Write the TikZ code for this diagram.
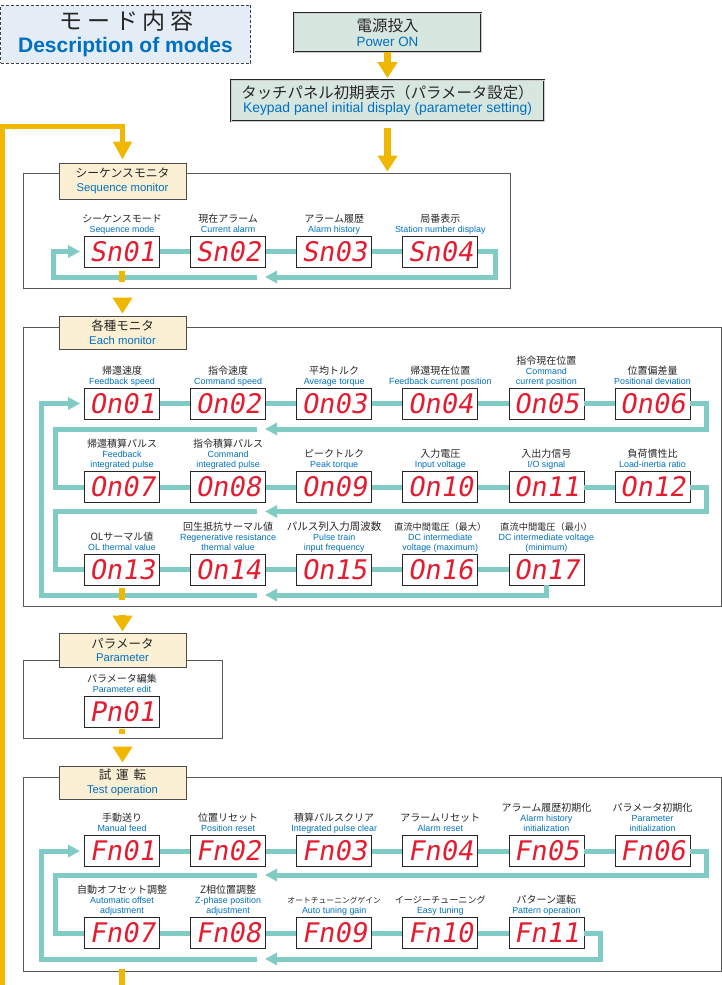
\documentclass[tikz,border=0pt]{standalone}
\usepackage{fontspec}
\setmainfont{Liberation Sans}
\newfontfamily\jpfont{Noto Sans CJK JP}
\newfontfamily\segfont{DejaVu Sans Mono}[FakeSlant=0.18]
\usetikzlibrary{arrows.meta,positioning,calc}

\definecolor{loopteal}{RGB}{128,204,196}
\definecolor{flowyellow}{RGB}{240,183,0}
\definecolor{segred}{RGB}{228,28,48}
\definecolor{engblue}{RGB}{0,112,192}
\definecolor{tabcream}{RGB}{252,240,212}
\definecolor{titlefill}{RGB}{228,237,246}
\definecolor{pwrfill}{RGB}{216,230,224}

\newcommand{\jlbl}[2][10]{{\jpfont\fontsize{#1}{12}\selectfont\color{black!85}#2}}

\begin{document}
\begin{tikzpicture}[
        x=1pt, y=-1pt,
        frame/.style={draw=black!65, line width=0.9pt, inner sep=0pt},
        tab/.style={draw=black!70, line width=0.8pt, fill=tabcream, minimum width=127pt, minimum height=34pt, inner sep=0pt, align=center, text=engblue, font=\fontsize{11.3}{13.5}\selectfont},
        pwrbox/.style={draw=black!85, line width=0.7pt, double=gray!40, double distance=0.9pt, fill=pwrfill, inner sep=0pt, align=center, text=engblue},
        disp/.style={draw=black!85, line width=0.8pt, fill=white, minimum width=75pt, minimum height=31pt, inner sep=0pt, text=segred, font=\segfont\fontsize{27}{27}\selectfont},
        lbl/.style={align=center, inner sep=0pt, text depth=2pt, text=engblue, font=\fontsize{8.9}{10}\selectfont},
        tline/.style={draw=loopteal, line width=5pt},
        ttip/.style={-{Triangle[width=12pt,length=12pt]}},
        yarrow/.style={draw=flowyellow, line width=7pt, -{Triangle[width=19pt,length=16pt]}},
        yloop/.style={draw=flowyellow, line width=5pt, -{Triangle[width=18pt,length=18pt]}},
        ystub/.style={draw=flowyellow, line width=6pt}
    ]
        \useasboundingbox (0,0) rectangle (722,985);

        % Heading and start boxes
        \node[draw=black!75, dashed, dash pattern=on 3pt off 2pt, line width=0.9pt, fill=titlefill, minimum width=250pt, minimum height=58pt, inner sep=0pt, align=center, text=engblue, font=\bfseries\fontsize{21}{23}\selectfont] (title) at (125.5,34)
            {{\jpfont\mdseries\fontsize{23}{23}\selectfont\color{black!85}\addfontfeature{LetterSpace=20}モード内容\kern-2.3pt}\\Description of modes};
        \node[pwrbox, minimum width=187pt, minimum height=39pt, font=\fontsize{13.4}{15.5}\selectfont] (power) at (387.5,32.5)
            {{\jpfont\fontsize{15.5}{17}\selectfont\color{black!85}電源投入}\\Power ON};
        \node[pwrbox, minimum width=313pt, minimum height=41pt, font=\fontsize{13.9}{14.5}\selectfont] (keypad) at (387.5,100.5)
            {{\jpfont\fontsize{15.4}{17}\selectfont\color{black!85}タッチパネル初期表示（パラメータ設定）}\\Keypad panel initial display (parameter setting)};

        % Section frames
        \node[frame, minimum width=487pt, minimum height=115pt] (seqframe) at (266.5,230.5) {};
        \node[frame, minimum width=698pt, minimum height=279pt] (eachframe) at (372,466.5) {};
        \node[frame, minimum width=199pt, minimum height=78pt] (paramframe) at (122.5,699) {};
        \node[frame, minimum width=698pt, minimum height=194pt] (testframe) at (372,874) {};

        % Section tabs
        \node[tab, minimum height=36pt] (tabseq) at (122.5,181)
            {{\jpfont\fontsize{11.8}{13}\selectfont\color{black!85}シーケンスモニタ}\\Sequence monitor};
        \node[tab, minimum height=33pt] (tabeach) at (122.5,332.5)
            {{\jpfont\fontsize{12.5}{14}\selectfont\color{black!85}各種モニタ}\\Each monitor};
        \node[tab] (tabparam) at (122.5,650)
            {{\jpfont\fontsize{12.5}{14}\selectfont\color{black!85}パラメータ}\\Parameter};
        \node[tab, minimum height=33pt] (tabtest) at (122.5,782.5)
            {{\jpfont\fontsize{12.5}{14}\selectfont\color{black!85}\spaceskip=5pt\relax 試 運 転}\\Test operation};

        % Sequence monitor
        \node[disp] (sn01) at (122,251.5) {Sn01};
        \node[disp, right=30.3pt of sn01] (sn02) {Sn02};
        \node[disp, right=30.3pt of sn02] (sn03) {Sn03};
        \node[disp, right=30.3pt of sn03] (sn04) {Sn04};
        \node[lbl, above=1pt of sn01] {\jlbl{シーケンスモード}\\Sequence mode};
        \node[lbl, above=1pt of sn02] {\jlbl{現在アラーム}\\Current alarm};
        \node[lbl, above=1pt of sn03] {\jlbl{アラーム履歴}\\Alarm history};
        \node[lbl, above=1pt of sn04] {\jlbl{局番表示}\\Station number display};

        \draw[tline] (sn01) -- (sn02);
        \draw[tline] (sn02) -- (sn03);
        \draw[tline] (sn03) -- (sn04);
        \draw[tline, ttip] (sn04.east) -- ++(17,0) |- (265,277);
        \draw[tline, ttip, shorten >=4pt] (257,277) -- (53,277) |- (sn01.west);

        % Each monitor
        \node[disp] (on01) at (122,403.5) {On01};
        \node[disp, right=30.3pt of on01] (on02) {On02};
        \node[disp, right=30.3pt of on02] (on03) {On03};
        \node[disp, right=30.3pt of on03] (on04) {On04};
        \node[disp, right=30.3pt of on04] (on05) {On05};
        \node[disp, right=30.3pt of on05] (on06) {On06};
        \node[disp] (on07) at (122,487) {On07};
        \node[disp, right=30.3pt of on07] (on08) {On08};
        \node[disp, right=30.3pt of on08] (on09) {On09};
        \node[disp, right=30.3pt of on09] (on10) {On10};
        \node[disp, right=30.3pt of on10] (on11) {On11};
        \node[disp, right=30.3pt of on11] (on12) {On12};
        \node[disp] (on13) at (122,569.5) {On13};
        \node[disp, right=30.3pt of on13] (on14) {On14};
        \node[disp, right=30.3pt of on14] (on15) {On15};
        \node[disp, right=30.3pt of on15] (on16) {On16};
        \node[disp, right=30.3pt of on16] (on17) {On17};

        \node[lbl, above=1pt of on01] {\jlbl{帰還速度}\\Feedback speed};
        \node[lbl, above=1pt of on02] {\jlbl{指令速度}\\Command speed};
        \node[lbl, above=1pt of on03] {\jlbl{平均トルク}\\Average torque};
        \node[lbl, above=1pt of on04] {\jlbl{帰還現在位置}\\Feedback current position};
        \node[lbl, above=1pt of on05] {\jlbl{指令現在位置}\\Command\\current position};
        \node[lbl, above=1pt of on06] {\jlbl{位置偏差量}\\Positional deviation};
        \node[lbl, above=1pt of on07] {\jlbl{帰還積算パルス}\\Feedback\\integrated pulse};
        \node[lbl, above=1pt of on08] {\jlbl{指令積算パルス}\\Command\\integrated pulse};
        \node[lbl, above=1pt of on09] {\jlbl{ピークトルク}\\Peak torque};
        \node[lbl, above=1pt of on10] {\jlbl{入力電圧}\\Input voltage};
        \node[lbl, above=1pt of on11] {\jlbl{入出力信号}\\I/O signal};
        \node[lbl, above=1pt of on12] {\jlbl{負荷慣性比}\\Load-inertia ratio};
        \node[lbl, above=1pt of on13] {\jlbl{OLサーマル値}\\OL thermal value};
        \node[lbl, above=1pt of on14] {\jlbl{回生抵抗サーマル値}\\Regenerative resistance\\thermal value};
        \node[lbl, above=1pt of on15] {\jlbl[10.5]{パルス列入力周波数}\\Pulse train\\input frequency};
        \node[lbl, above=1pt of on16] {\jlbl[9.2]{直流中間電圧（最大）}\\DC intermediate\\voltage (maximum)};
        \node[lbl, above=1pt of on17] {\jlbl[9.2]{直流中間電圧（最小）}\\DC intermediate voltage\\(minimum)};

        \draw[tline] (on01) -- (on02);
        \draw[tline] (on02) -- (on03);
        \draw[tline] (on03) -- (on04);
        \draw[tline] (on04) -- (on05);
        \draw[tline] (on05) -- (on06);
        \draw[tline, ttip] (on06.east) -- ++(16.5,0) |- (265,429);
        \draw[tline] (257,429) -- (55,429) |- (on07.west);
        \draw[tline] (on07) -- (on08);
        \draw[tline] (on08) -- (on09);
        \draw[tline] (on09) -- (on10);
        \draw[tline] (on10) -- (on11);
        \draw[tline] (on11) -- (on12);
        \draw[tline, ttip] (on12.east) -- ++(16.5,0) |- (265,511.5);
        \draw[tline] (257,511.5) -- (55,511.5) |- (on13.west);
        \draw[tline] (on13) -- (on14);
        \draw[tline] (on14) -- (on15);
        \draw[tline] (on15) -- (on16);
        \draw[tline] (on16) -- (on17);
        \draw[tline, ttip] (on17.south) |- (265,595);
        \draw[tline, ttip, shorten >=4pt] (257,595) -- (41,595) |- (on01.west);

        % Parameter
        \node[disp] (pn01) at (122,712) {Pn01};
        \node[lbl, above=1pt of pn01] {\jlbl{パラメータ編集}\\Parameter edit};

        % Test operation
        \node[disp] (fn01) at (122,851) {Fn01};
        \node[disp, right=30.3pt of fn01] (fn02) {Fn02};
        \node[disp, right=30.3pt of fn02] (fn03) {Fn03};
        \node[disp, right=30.3pt of fn03] (fn04) {Fn04};
        \node[disp, right=30.3pt of fn04] (fn05) {Fn05};
        \node[disp, right=30.3pt of fn05] (fn06) {Fn06};
        \node[disp] (fn07) at (122,933) {Fn07};
        \node[disp, right=30.3pt of fn07] (fn08) {Fn08};
        \node[disp, right=30.3pt of fn08] (fn09) {Fn09};
        \node[disp, right=30.3pt of fn09] (fn10) {Fn10};
        \node[disp, right=30.3pt of fn10] (fn11) {Fn11};

        \node[lbl, above=1pt of fn01] {\jlbl{手動送り}\\Manual feed};
        \node[lbl, above=1pt of fn02] {\jlbl{位置リセット}\\Position reset};
        \node[lbl, above=1pt of fn03] {\jlbl{積算パルスクリア}\\Integrated pulse clear};
        \node[lbl, above=1pt of fn04] {\jlbl{アラームリセット}\\Alarm reset};
        \node[lbl, above=1pt of fn05] {\jlbl{アラーム履歴初期化}\\Alarm history\\initialization};
        \node[lbl, above=1pt of fn06] {\jlbl{パラメータ初期化}\\Parameter\\initialization};
        \node[lbl, above=1pt of fn07] {\jlbl{自動オフセット調整}\\Automatic offset\\adjustment};
        \node[lbl, above=1pt of fn08] {\jlbl{Z相位置調整}\\Z-phase position\\adjustment};
        \node[lbl, above=1pt of fn09] {\jlbl[7.8]{オートチューニングゲイン}\\Auto tuning gain};
        \node[lbl, above=1pt of fn10] {\jlbl[9.1]{イージーチューニング}\\Easy tuning};
        \node[lbl, above=1pt of fn11] {\jlbl{パターン運転}\\Pattern operation};

        \draw[tline] (fn01) -- (fn02);
        \draw[tline] (fn02) -- (fn03);
        \draw[tline] (fn03) -- (fn04);
        \draw[tline] (fn04) -- (fn05);
        \draw[tline] (fn05) -- (fn06);
        \draw[tline, ttip] (fn06.east) -- ++(16.5,0) |- (265,875);
        \draw[tline] (257,875) -- (55,875) |- (fn07.west);
        \draw[tline] (fn07) -- (fn08);
        \draw[tline] (fn08) -- (fn09);
        \draw[tline] (fn09) -- (fn10);
        \draw[tline] (fn10) -- (fn11);
        \draw[tline, ttip] (fn11.east) -- ++(16.5,0) |- (265,959);
        \draw[tline, ttip, shorten >=4pt] (257,959) -- (41,959) |- (fn01.west);

        % Yellow flow
        \draw[yarrow, shorten >=1.5pt] (power) -- (keypad);
        \draw[yarrow, shorten >=1pt] (keypad.south) ++(0,7) -- (seqframe.north -| keypad.south);
        \draw[yloop, shorten >=3pt] (2.5,985) -- (2.5,126) -| (tabseq.north);
        \draw[ystub] (sn01.south) ++(0,4) -- ++(0,11);
        \draw[yarrow, shorten >=2pt] (tabeach.north) ++(0,-18) -- (tabeach.north);
        \draw[ystub] (on13.south) ++(0,3) -- ++(0,12);
        \draw[yarrow, shorten >=1pt] (tabparam.north) ++(0,-18) -- (tabparam.north);
        \draw[ystub] (pn01.south) ++(0,1) -- ++(0,5);
        \draw[yarrow, shorten >=3pt] (tabtest.north) ++(0,-19) -- (tabtest.north);
        \draw[ystub] (fn07.south) ++(0,20) -- ++(0,17);
    \end{tikzpicture}
\end{document}
